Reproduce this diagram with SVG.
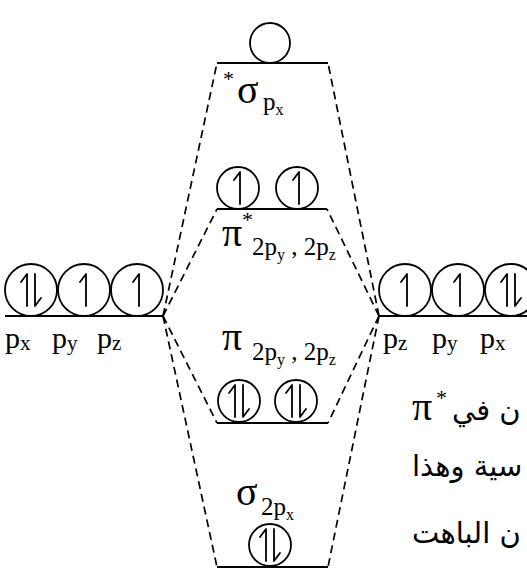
<svg xmlns="http://www.w3.org/2000/svg" width="527" height="568" viewBox="0 0 527 568">
<style>
.lvl{stroke:#000;stroke-width:2;fill:none}
.orb{stroke:#000;stroke-width:1.8;fill:#fff}
.e{stroke:#000;stroke-width:1.8;fill:none;stroke-linecap:round;stroke-linejoin:round}
.dash{stroke:#000;stroke-width:1.7;fill:none;stroke-dasharray:8 5}
.g{font-family:"Liberation Serif","Times New Roman",serif;font-size:40px;fill:#000}
.sub{font-family:"Liberation Serif","Times New Roman",serif;font-size:25px;fill:#000}
.sub2{font-family:"Liberation Serif","Times New Roman",serif;font-size:16px}
.lab{font-family:"Liberation Serif","Times New Roman",serif;font-size:30px;fill:#000}
.lab2{font-family:"Liberation Serif","Times New Roman",serif;font-size:21px}
.star{font-family:"Liberation Serif","Times New Roman",serif;font-size:22px;fill:#000}
.ar{font-family:"DejaVu Sans","Liberation Sans",sans-serif;font-size:29px;fill:#000}
</style>
<defs>
<g id="up"><path class="e" d="M0,16 V-16 L-6,-8"/></g>
<g id="pair"><path class="e" d="M-4,16 V-16 L-10,-8 M4,-16 V16 L10,8"/></g>
</defs>
<g id="connectors">
<path class="dash" d="M163,316 L217,63"/>
<path class="dash" d="M163,316 L217,209"/>
<path class="dash" d="M163,316 L217,423"/>
<path class="dash" d="M163,316 L217,567"/>
<path class="dash" d="M379,316 L328,63"/>
<path class="dash" d="M379,316 L327,209"/>
<path class="dash" d="M379,316 L328,423"/>
<path class="dash" d="M379,316 L328,567"/>
</g>
<g id="sigma-star">
<line class="lvl" x1="217" y1="63" x2="328" y2="63"/>
<circle class="orb" cx="270" cy="43" r="20"/>
<text class="star" x="223" y="86">*</text>
<text class="g" x="237" y="103">σ</text>
<text class="sub" x="263" y="110">p<tspan class="sub2" dy="5">x</tspan></text>
</g>
<g id="pi-star">
<line class="lvl" x1="217" y1="209" x2="327" y2="209"/>
<circle class="orb" cx="238" cy="188" r="21"/>
<circle class="orb" cx="297" cy="188" r="21"/>
<use href="#up" x="240" y="188"/>
<use href="#up" x="299" y="188"/>
<text class="star" x="242" y="227">*</text>
<text class="g" x="222" y="246">π</text>
<text class="sub" x="252" y="255">2p<tspan class="sub2" dy="5">y</tspan><tspan dy="-5"> , 2p</tspan><tspan class="sub2" dy="5">z</tspan></text>
</g>
<g id="left-atomic">
<line class="lvl" x1="5" y1="316" x2="163" y2="316"/>
<circle class="orb" cx="31" cy="290" r="26"/>
<circle class="orb" cx="84" cy="290" r="26"/>
<circle class="orb" cx="137" cy="290" r="26"/>
<use href="#pair" x="31" y="290"/>
<use href="#up" x="86" y="290"/>
<use href="#up" x="139" y="290"/>
<text class="lab" x="5" y="348">p<tspan class="lab2" dy="2">x</tspan></text>
<text class="lab" x="52" y="348">p<tspan class="lab2" dy="2">y</tspan></text>
<text class="lab" x="97" y="348">p<tspan class="lab2" dy="2">z</tspan></text>
</g>
<g id="right-atomic">
<line class="lvl" x1="379" y1="316" x2="527" y2="316"/>
<circle class="orb" cx="405" cy="290" r="26"/>
<circle class="orb" cx="458" cy="290" r="26"/>
<circle class="orb" cx="511" cy="290" r="26"/>
<use href="#up" x="407" y="290"/>
<use href="#up" x="460" y="290"/>
<use href="#pair" x="511" y="290"/>
<text class="lab" x="383" y="348">p<tspan class="lab2" dy="2">z</tspan></text>
<text class="lab" x="432" y="348">p<tspan class="lab2" dy="2">y</tspan></text>
<text class="lab" x="480" y="348">p<tspan class="lab2" dy="2">x</tspan></text>
</g>
<g id="pi-bond">
<line class="lvl" x1="217" y1="423" x2="328" y2="423"/>
<circle class="orb" cx="239" cy="401" r="21"/>
<circle class="orb" cx="296" cy="401" r="21"/>
<use href="#pair" x="239" y="401"/>
<use href="#pair" x="296" y="401"/>
<text class="g" x="222" y="350">π</text>
<text class="sub" x="252" y="360">2p<tspan class="sub2" dy="5">y</tspan><tspan dy="-5"> , 2p</tspan><tspan class="sub2" dy="5">z</tspan></text>
</g>
<g id="sigma-bond">
<line class="lvl" x1="217" y1="567" x2="328" y2="567"/>
<circle class="orb" cx="270" cy="545" r="21"/>
<use href="#pair" x="270" y="545"/>
<text class="g" x="236" y="505">σ</text>
<text class="sub" x="261" y="515">2p<tspan class="sub2" dy="5">x</tspan></text>
</g>
<g id="note">
<text class="g" x="412" y="420">π</text>
<text class="star" x="436" y="405">*</text>
<text class="ar" x="452" y="420">ن في</text>
<text class="ar" x="412" y="476">سية وهذا</text>
<text class="ar" x="412" y="543">ن الباهت</text>
</g>
</svg>
